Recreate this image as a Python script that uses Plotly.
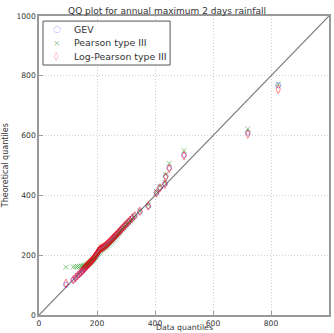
import plotly.graph_objects as go

data_q = [93, 118, 126, 133, 140, 146, 150, 154, 158, 161, 164, 167, 170, 173, 176, 179, 182, 185, 188, 190,
          193, 196, 199, 202, 205, 208, 211, 214, 218, 222, 226, 230, 234, 238, 242, 246, 250, 254, 258, 262,
          266, 270, 274, 278, 282, 287, 292, 297, 302, 308, 314, 321, 330, 348, 377, 405, 417, 434, 437, 449,
          500, 720, 825]
gev_q = [101, 117, 124, 131, 137, 143, 148, 152, 156, 160, 163, 166, 169, 172, 175, 178, 181, 184, 188, 191,
         195, 199, 203, 208, 213, 217, 220, 222, 224, 226, 229, 232, 235, 239, 243, 247, 251, 255, 259, 263,
         267, 271, 275, 279, 284, 289, 294, 299, 304, 310, 316, 323, 331, 346, 364, 409, 426, 439, 464, 492,
         535, 610, 768]
p3_q = [160, 161, 161, 162, 162, 163, 164, 165, 166, 167, 168, 170, 172, 174, 176, 178, 180, 183, 186, 189,
        192, 195, 198, 202, 206, 209, 212, 215, 218, 221, 224, 227, 230, 233, 236, 240, 244, 248, 252, 257,
        262, 266, 271, 276, 281, 286, 291, 297, 302, 308, 314, 321, 331, 349, 368, 413, 430, 444, 470, 507,
        550, 622, 772]
lp3_q = [106, 118, 125, 132, 138, 144, 149, 153, 157, 161, 164, 167, 170, 173, 176, 179, 182, 185, 189, 192,
         196, 200, 204, 209, 214, 218, 221, 223, 225, 227, 230, 233, 236, 240, 244, 248, 252, 256, 260, 264,
         268, 272, 276, 280, 285, 290, 295, 300, 305, 311, 317, 324, 332, 347, 365, 408, 425, 437, 462, 490,
         533, 605, 755]
diag = [0, 1000]
ticks = [0, 200, 400, 600, 800, 1000]
tick_text = ["0", "200", "400", "600", "800", "100"]
series_names = ["GEV", "Pearson type III", "Log-Pearson type III"]
series_colors = ["rgba(60,60,255,0.45)", "rgba(0,140,0,0.45)", "rgba(255,0,0,0.5)"]
legend_glyphs = ["○", "×", "◊"]

fig = go.Figure()
fig.add_trace(go.Scatter(x=diag, y=diag, mode="lines", line=dict(color="#777777", width=1.2),
                         showlegend=False, hoverinfo="skip"))
fig.add_trace(go.Scatter(x=data_q, y=gev_q, mode="markers", name=series_names[0], showlegend=False,
                         marker=dict(symbol="circle-open", size=5, color=series_colors[0],
                                     line=dict(width=1))))
fig.add_trace(go.Scatter(x=data_q, y=p3_q, mode="markers", name=series_names[1], showlegend=False,
                         marker=dict(symbol="x-thin-open", size=5, color=series_colors[1],
                                     line=dict(width=1, color=series_colors[1]))))
fig.add_trace(go.Scatter(x=data_q, y=lp3_q, mode="markers", name=series_names[2], showlegend=False,
                         marker=dict(symbol="diamond-tall-open", size=6, color=series_colors[2],
                                     line=dict(width=1))))

axis_common = dict(range=[0, 1000], showgrid=True, gridcolor="#d0d0d0", griddash="1px,2px", gridwidth=1,
                   zeroline=False, showline=True, linecolor="#999999", linewidth=1.5, mirror=True,
                   ticks="inside", ticklen=4, tickcolor="#999999", automargin=False,
                   tickfont=dict(family="DejaVu Sans", size=7.6, color="#333333"), tickvals=ticks)

font_txt = dict(family="DejaVu Sans", color="#333333")

annotations = [
    dict(text="Data quantiles", xref="paper", yref="paper", x=0.5, y=-0.061, xanchor="center",
         yanchor="bottom", showarrow=False, borderpad=0, font=dict(font_txt, size=7.8)),
    dict(text="Theoretical quantiles", xref="paper", yref="paper", x=-0.115, y=0.5, xanchor="center",
         yanchor="middle", textangle=-90, showarrow=False, font=dict(font_txt, size=8)),
]
row_y = [0.956, 0.911, 0.866]
for name, col, glyph, ry in zip(series_names, series_colors, legend_glyphs, row_y):
    annotations.append(dict(text=glyph, xref="paper", yref="paper", x=0.062, y=ry, xanchor="center",
                            yanchor="middle", showarrow=False,
                            font=dict(family="DejaVu Sans", size=9, color=col)))
    annotations.append(dict(text=name, xref="paper", yref="paper", x=0.115, y=ry, xanchor="left",
                            yanchor="middle", showarrow=False, font=dict(font_txt, size=9.4)))

fig.update_layout(
    width=334, height=333,
    margin=dict(l=39, r=5, t=16, b=18, autoexpand=False),
    paper_bgcolor="white", plot_bgcolor="white",
    title=dict(text="QQ plot for annual maximum 2 days rainfall", x=0.5, xanchor="center",
               y=0.967, yanchor="middle", font=dict(font_txt, size=9)),
    xaxis=dict(axis_common, ticktext=tick_text),
    yaxis=dict(axis_common, ticktext=[str(t) for t in ticks]),
    annotations=annotations,
    shapes=[dict(type="rect", xref="paper", yref="paper", x0=0.0138, x1=0.452, y0=0.836, y1=0.983,
                 line=dict(color="#555555", width=1), fillcolor="white", layer="above")],
    showlegend=False,
)
fig.write_html("out.html", config={"displayModeBar": False},
               post_script="document.body.style.margin='0';")
